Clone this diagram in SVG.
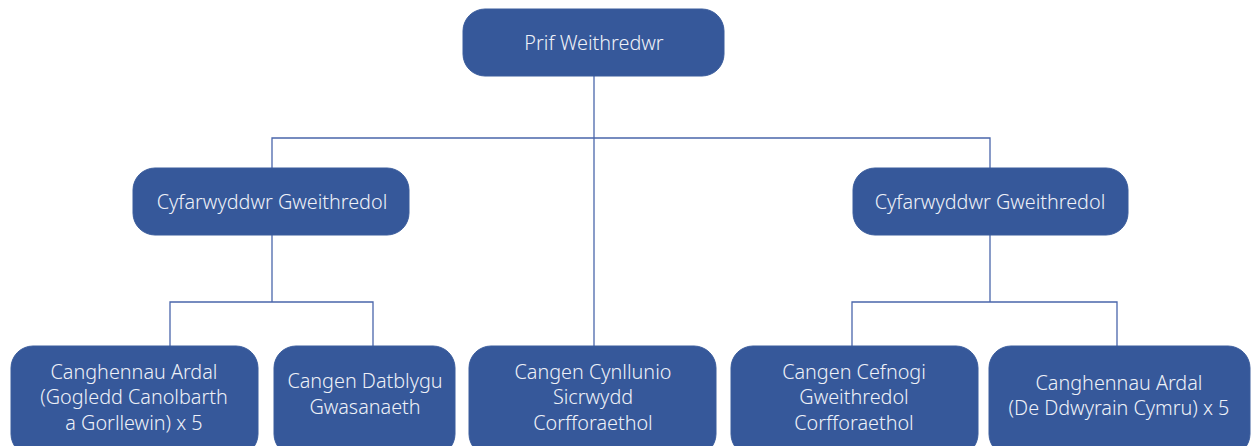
<svg xmlns="http://www.w3.org/2000/svg" width="1252" height="446" viewBox="0 0 1252 446">
<style>
.box{fill:#36589a;stroke:#3a5c9c;stroke-width:1}
.t{font-family:"Noto Sans","Open Sans","Liberation Sans",sans-serif;font-size:19.8px;font-weight:300;fill:#eef1f8;text-anchor:middle}
.c{fill:none;stroke:#4a66ab;stroke-width:1.3}
</style>
<rect width="1252" height="446" fill="#ffffff"/>
<g id="connectors">
<path class="c" d="M594,76 V346"/>
<path class="c" d="M272,168 V138 H990 V168"/>
<path class="c" d="M272,235 V302"/>
<path class="c" d="M170,346 V302 H373 V346"/>
<path class="c" d="M990,235 V302"/>
<path class="c" d="M852,346 V302 H1117 V346"/>
</g>
<g id="ceo">
<rect class="box" x="463" y="9" width="261" height="67" rx="22"/>
<text class="t" x="594" y="50">Prif Weithredwr</text>
</g>
<g id="director-left">
<rect class="box" x="133" y="168" width="276" height="67" rx="22"/>
<text class="t" x="272" y="209">Cyfarwyddwr Gweithredol</text>
</g>
<g id="director-right">
<rect class="box" x="853" y="168" width="275" height="67" rx="22"/>
<text class="t" x="990" y="209">Cyfarwyddwr Gweithredol</text>
</g>
<g id="branch-north">
<rect class="box" x="11" y="346" width="247" height="110" rx="22"/>
<text class="t" x="134" y="379">Canghennau Ardal</text>
<text class="t" x="134" y="404">(Gogledd Canolbarth</text>
<text class="t" x="134" y="430">a Gorllewin) x 5</text>
</g>
<g id="branch-service">
<rect class="box" x="274" y="346" width="181" height="110" rx="22"/>
<text class="t" x="365" y="388">Cangen Datblygu</text>
<text class="t" x="365" y="414">Gwasanaeth</text>
</g>
<g id="branch-planning">
<rect class="box" x="469" y="346" width="247" height="110" rx="22"/>
<text class="t" x="593" y="379">Cangen Cynllunio</text>
<text class="t" x="593" y="404">Sicrwydd</text>
<text class="t" x="593" y="430">Corfforaethol</text>
</g>
<g id="branch-support">
<rect class="box" x="731" y="346" width="247" height="110" rx="22"/>
<text class="t" x="854" y="379">Cangen Cefnogi</text>
<text class="t" x="854" y="404">Gweithredol</text>
<text class="t" x="854" y="430">Corfforaethol</text>
</g>
<g id="branch-south">
<rect class="box" x="989" y="346" width="261" height="110" rx="22"/>
<text class="t" x="1119" y="390">Canghennau Ardal</text>
<text class="t" x="1119" y="415">(De Ddwyrain Cymru) x 5</text>
</g>
</svg>
